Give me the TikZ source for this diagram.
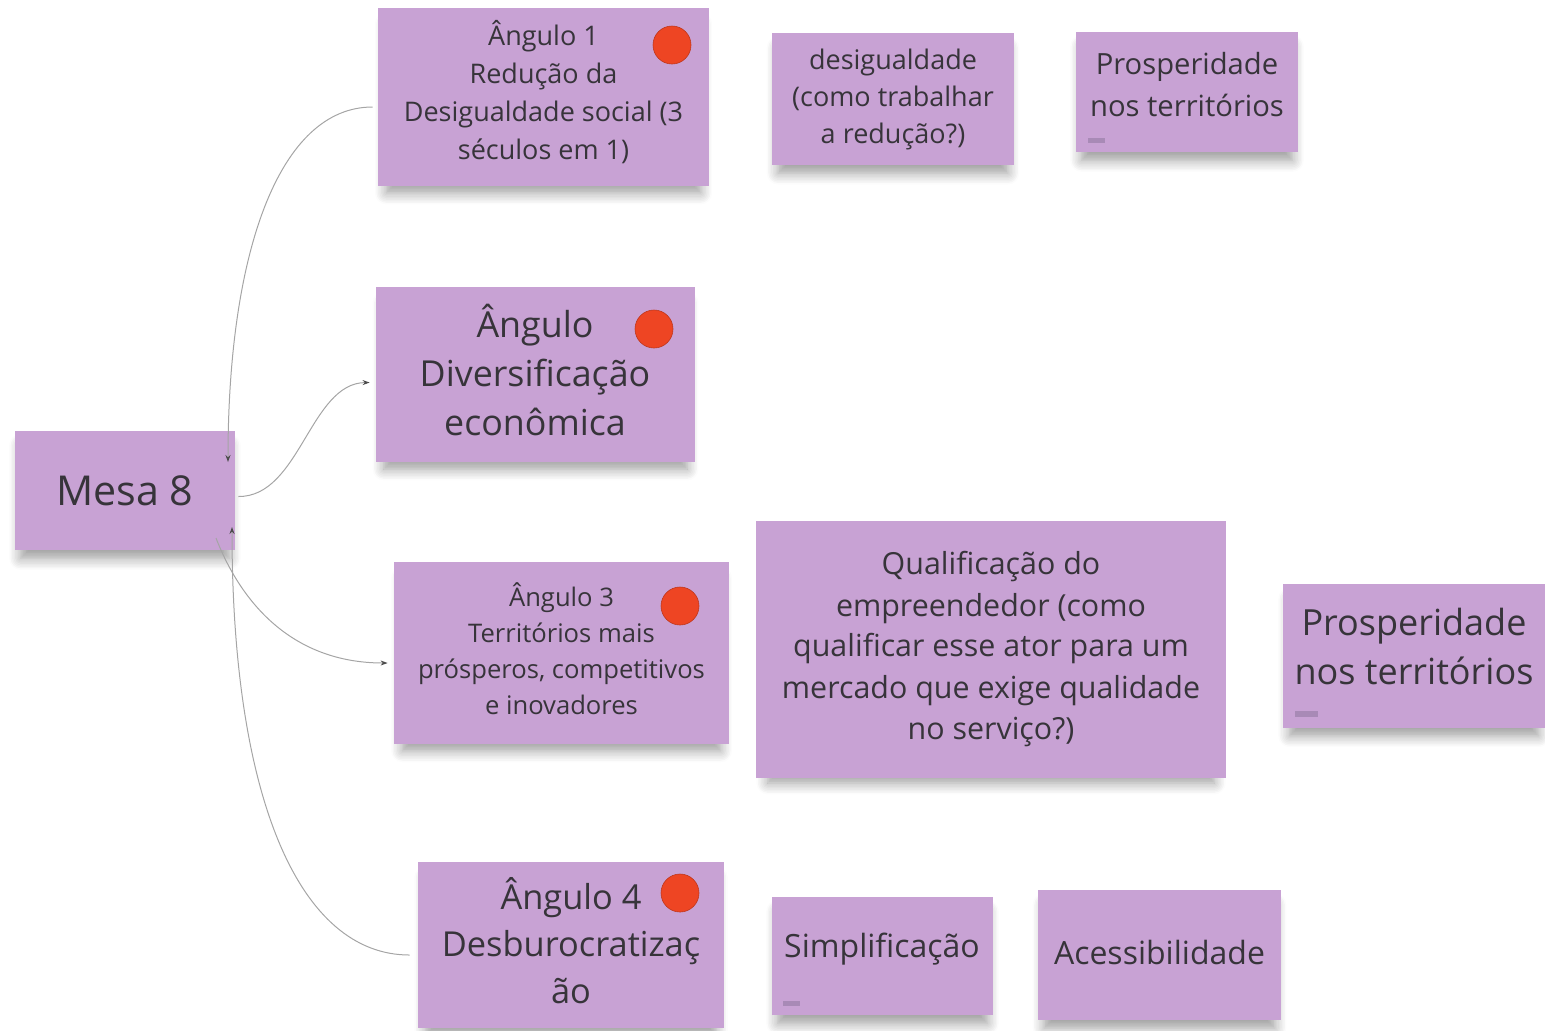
\documentclass[tikz,border=0pt]{standalone}
\usepackage{fontspec}
\setmainfont{Open Sans}
\usetikzlibrary{arrows.meta,shadows.blur}
\definecolor{sticky}{RGB}{200,162,212}
\definecolor{stickytxt}{RGB}{55,52,58}
\definecolor{dotred}{RGB}{238,69,35}
\definecolor{linkgray}{RGB}{165,165,165}
\definecolor{tagmark}{RGB}{168,138,182}

\begin{document}
\begin{tikzpicture}[
    x=0.5pt, y=-0.5pt,
    note/.style={fill=sticky, inner sep=0pt,
        blur shadow={shadow xshift=0pt, shadow yshift=-6pt, shadow scale=0.95,
            shadow opacity=40, shadow blur radius=6pt, shadow blur steps=8}},
    notetext/.style={text=stickytxt, align=center, inner sep=0pt},
    vote/.style={circle, fill=dotred, draw=dotred!80!black, line width=0.3pt,
        minimum size=19pt, inner sep=0pt},
    link/.style={linkgray, line width=0.5pt,
        -{Stealth[length=3.5pt, width=2.5pt, color=black!70]}},
]

\useasboundingbox (0,0) rectangle (1545,1030);

% ===== Mesa =====
\node[note, minimum width=110pt, minimum height=59.5pt] (m8) at (125,490.5) {};
\node[notetext, font=\fontsize{20.6}{24}\selectfont] (m8t) at (125,490.5) {Mesa 8};

% ===== Angulos =====
\node[note, minimum width=165.5pt, minimum height=89pt] (a1) at (543.5,97) {};
\node[notetext, font=\fontsize{13.5}{19}\selectfont] (a1t) at (543.5,92.5)
    {Ângulo 1\\Redução da\\Desigualdade social (3\\séculos em 1)};
\node[note, minimum width=159.5pt, minimum height=87.5pt] (a2) at (535.5,374.5) {};
\node[notetext, font=\fontsize{17.9}{24.5}\selectfont] (a2t) at (535,369.5)
    {Ângulo\\Diversificação\\econômica};
\node[note, minimum width=167.5pt, minimum height=91pt] (a3) at (561.5,653) {};
\node[notetext, font=\fontsize{12.8}{18}\selectfont] (a3t) at (561.5,648.5)
    {Ângulo 3\\Territórios mais\\prósperos, competitivos\\e inovadores};
\node[note, minimum width=153pt, minimum height=83pt] (a4) at (571,945) {};
\node[notetext, font=\fontsize{17.2}{23.5}\selectfont] (a4t) at (571,940.5)
    {Ângulo 4\\Desburocratizaç\\ão};

% red votes
\foreach \n/\x/\y in {1/672/45, 2/654/329, 3/680/606, 4/680/893} {
    \node[vote] (dot\n) at (\x,\y) {};
}

% ===== Ideias =====
\node[note, minimum width=121pt, minimum height=66pt] (d1) at (893,99) {};
\node[notetext, font=\fontsize{13.5}{18.5}\selectfont] (d1t) at (893,99)
    {desigualdade\\(como trabalhar\\a redução?)};
\node[note, minimum width=111pt, minimum height=60pt] (p1) at (1187,92) {};
\node[notetext, font=\fontsize{14.6}{21}\selectfont] (p1t) at (1187,85)
    {Prosperidade\\nos territórios};
\node[note, minimum width=235pt, minimum height=128.5pt] (q3) at (991,649.5) {};
\node[notetext, font=\fontsize{15.2}{20.5}\selectfont] (q3t) at (991,649)
    {Qualificação do\\empreendedor (como\\qualificar esse ator para um\\mercado que exige qualidade\\no serviço?)};
\node[note, minimum width=131pt, minimum height=72pt] (p3) at (1414,656) {};
\node[notetext, font=\fontsize{18}{24.5}\selectfont] (p3t) at (1414,646)
    {Prosperidade\\nos territórios};
\node[note, minimum width=110.5pt, minimum height=59pt] (s4) at (882.5,956) {};
\node[notetext, font=\fontsize{16}{20}\selectfont] (s4t) at (882,949) {Simplificação};
\node[note, minimum width=121.5pt, minimum height=65pt] (ac4) at (1159.5,955) {};
\node[notetext, font=\fontsize{16}{20}\selectfont] (ac4t) at (1159.5,952) {Acessibilidade};

% tag marks
\fill[tagmark] (1088,138) rectangle (1105,143);
\fill[tagmark] (1295,711) rectangle (1318,717);
\fill[tagmark] (783,1001) rectangle (800,1006);

% ===== Links =====
\coordinate (m8top) at (228,462);
\coordinate (m8low) at (216,538);
\coordinate (m8bot) at (232,527);

\draw[link] ([xshift=-2.5pt, yshift=-5pt]a1.west)
    .. controls (280,107) and (228,250) .. (m8top);
\draw[link] ([xshift=1.5pt, yshift=-3pt]m8.east)
    .. controls (300,497) and (310,383) .. ([xshift=-3pt, yshift=-4pt]a2.west);
\draw[link] (m8low)
    .. controls (240,600) and (290,663) .. ([xshift=-3pt, yshift=-5pt]a3.west);
\draw[link] ([xshift=-4pt, yshift=-5pt]a4.west)
    .. controls (300,955) and (232,800) .. (m8bot);

\end{tikzpicture}
\end{document}
